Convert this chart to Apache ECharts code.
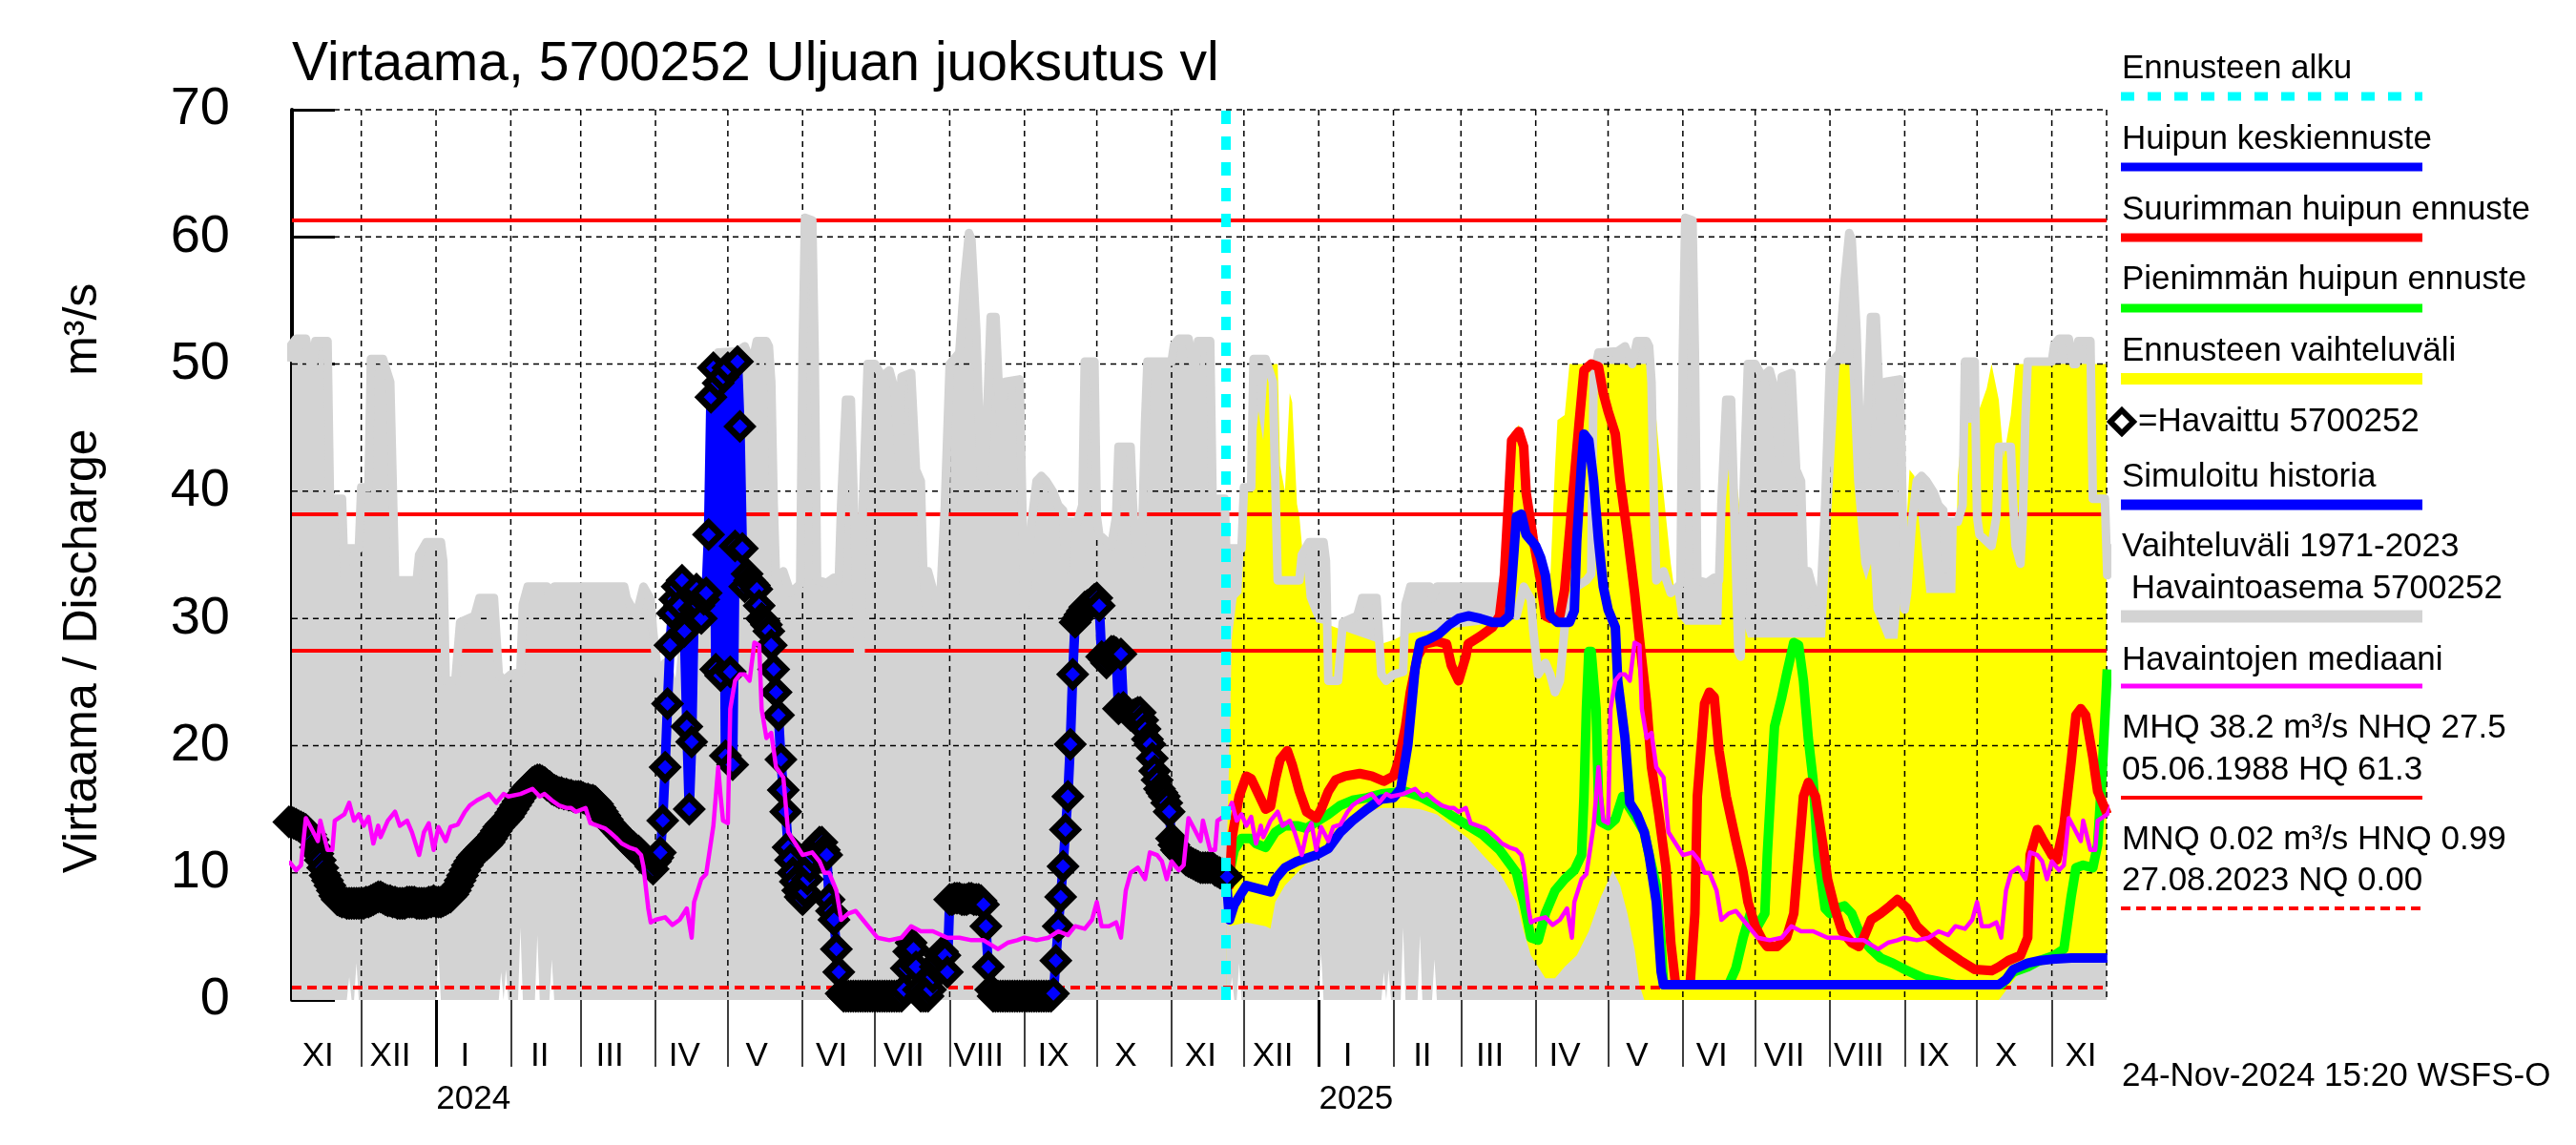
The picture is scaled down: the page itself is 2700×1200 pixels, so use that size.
<!DOCTYPE html>
<html><head><meta charset="utf-8">
<script src="https://cdn.jsdelivr.net/npm/echarts@6/dist/echarts.min.js"></script>
<style>html,body{margin:0;padding:0;background:#fff}#c{width:2700px;height:1200px}</style>
</head><body><div id="c"></div>
<script>
const FONT = '"Liberation Sans", Arial, Helvetica, sans-serif';
const axisStart = '2023-11-02T06:00';
const axisEnd = '2025-11-23T17:00';
const forecastStart = '2024-11-23T15:00';
const yTicks = [0, 10, 20, 30, 40, 50, 60, 70];
const romanMonths = ['I','II','III','IV','V','VI','VII','VIII','IX','X','XI','XII'];
const hqLevels = [61.3, 38.2, 27.5];   // HQ, MHQ, NHQ
const hnqLevel = 0.99;                 // HNQ

// Climatology 1971-2023 (one Nov..Oct cycle, repeats every year)
const climMaxCycle = [
['2023-11-01',50.2],['2023-11-02',51.5],['2023-11-04',52.0],['2023-11-08',52.0],['2023-11-10',50.0],['2023-11-11',50.0],['2023-11-12',51.8],['2023-11-17',51.8],['2023-11-18',39.4],['2023-11-23',39.4],['2023-11-24',33.4],['2023-11-25',35.5],['2023-11-30',35.5],
['2023-12-01',40.3],['2023-12-04',40.3],['2023-12-05',50.4],['2023-12-10',50.4],['2023-12-13',48.6],['2023-12-15',33.0],['2023-12-24',33.0],['2023-12-25',35.0],['2023-12-28',36.0],
['2024-01-03',36.0],['2024-01-04',34.5],['2024-01-05',25.1],['2024-01-09',25.1],['2024-01-11',29.7],['2024-01-17',30.2],['2024-01-19',31.6],['2024-01-25',31.6],['2024-01-27',25.6],['2024-01-29',25.1],
['2024-02-01',25.6],['2024-02-05',25.8],['2024-02-06',31.1],['2024-02-08',32.5],['2024-02-16',32.5],['2024-02-17',31.6],['2024-02-19',32.5],
['2024-03-19',32.5],['2024-03-20',31.6],['2024-03-24',30.2],['2024-03-27',32.5],['2024-03-30',31.5],['2024-03-31',29.0],
['2024-04-02',25.6],['2024-04-05',26.5],['2024-04-07',25.6],['2024-04-09',24.2],['2024-04-11',25.1],['2024-04-13',29.3],['2024-04-15',31.0],['2024-04-18',32.5],['2024-04-22',33.0],['2024-04-24',33.5],['2024-04-25',49.0],['2024-04-27',50.9],
['2024-05-05',51.0],['2024-05-08',51.4],['2024-05-11',50.0],['2024-05-13',51.8],['2024-05-17',51.8],['2024-05-18',51.4],['2024-05-19',48.6],['2024-05-20',39.0],['2024-05-21',33.0],['2024-05-24',33.7],['2024-05-27',32.0],['2024-05-31',32.7],
['2024-06-01',50.9],['2024-06-02',61.5],['2024-06-05',61.3],['2024-06-06',50.9],['2024-06-07',33.0],['2024-06-11',32.8],['2024-06-14',33.2],['2024-06-16',33.0],['2024-06-17',39.0],['2024-06-19',47.2],['2024-06-21',47.2],['2024-06-23',34.0],['2024-06-24',27.4],['2024-06-25',27.0],['2024-06-26',39.0],['2024-06-28',50.0],
['2024-07-01',50.0],['2024-07-04',49.0],['2024-07-07',49.5],['2024-07-09',48.1],['2024-07-11',42.6],['2024-07-12',49.0],['2024-07-16',49.3],['2024-07-18',41.7],['2024-07-20',40.8],['2024-07-21',33.9],['2024-07-22',31.1],['2024-07-23',33.7],['2024-07-26',31.6],['2024-07-28',31.1],['2024-07-30',38.9],
['2024-08-01',50.0],['2024-08-05',50.9],['2024-08-07',56.4],['2024-08-09',60.3],['2024-08-10',59.8],['2024-08-12',52.7],['2024-08-14',41.2],['2024-08-15',41.0],['2024-08-16',43.5],['2024-08-18',53.7],['2024-08-20',53.7],['2024-08-22',45.4],['2024-08-24',48.6],['2024-08-30',48.8],
['2024-09-01',30.7],['2024-09-02',32.0],['2024-09-04',37.6],['2024-09-06',40.8],['2024-09-08',41.2],['2024-09-10',40.8],['2024-09-13',39.9],['2024-09-15',38.9],['2024-09-17',38.5],['2024-09-18',33.9],['2024-09-19',37.6],['2024-09-23',37.6],['2024-09-25',38.9],['2024-09-26',50.2],['2024-09-30',50.2],
['2024-10-01',38.0],['2024-10-02',36.6],['2024-10-07',35.7],['2024-10-09',38.0],['2024-10-10',43.5],['2024-10-15',43.5],['2024-10-16',38.9],['2024-10-17',35.7],['2024-10-19',34.3],['2024-10-20',38.0],['2024-10-21',45.4],['2024-10-22',50.2],['2024-10-31',50.2]
];
const climMinCycle = [
['2023-11-01',0],['2023-11-25',0],['2023-11-26',1.8],['2023-11-27',0],['2023-11-28',0],['2023-11-29',2.9],['2023-11-30',0],
['2024-01-01',0],['2024-01-02',3.7],['2024-01-03',0],['2024-01-27',0],['2024-01-28',2.2],['2024-01-29',0],['2024-01-30',2.4],['2024-01-31',0],
['2024-02-04',0],['2024-02-05',5.7],['2024-02-06',0],['2024-02-11',0],['2024-02-12',5.1],['2024-02-13',0],['2024-02-17',0],['2024-02-18',3.2],['2024-02-19',0],['2024-10-31',0]
];
const medianCycle = [
['2023-11-01',10.9],['2023-11-04',10.2],['2023-11-06',10.6],['2023-11-08',14.3],['2023-11-10',13.6],['2023-11-13',12.5],['2023-11-14',14.1],['2023-11-17',11.8],['2023-11-19',11.8],['2023-11-20',14.1],['2023-11-24',14.6],['2023-11-26',15.5],['2023-11-28',14.1],['2023-11-30',14.6],
['2023-12-02',13.7],['2023-12-04',14.4],['2023-12-06',12.3],['2023-12-08',13.7],['2023-12-09',12.8],['2023-12-12',14.1],['2023-12-15',14.8],['2023-12-17',13.7],['2023-12-20',14.1],['2023-12-22',13.2],['2023-12-25',11.4],['2023-12-27',13.2],['2023-12-29',13.9],['2023-12-31',11.8],
['2024-01-02',13.6],['2024-01-05',12.5],['2024-01-07',13.6],['2024-01-10',13.8],['2024-01-13',14.8],['2024-01-15',15.3],['2024-01-18',15.7],['2024-01-21',16.0],['2024-01-23',16.2],['2024-01-26',15.5],['2024-01-29',16.2],['2024-01-31',16.0],
['2024-02-05',16.2],['2024-02-10',16.6],['2024-02-13',16.0],['2024-02-15',16.2],['2024-02-18',15.7],['2024-02-21',15.3],['2024-02-24',15.1],['2024-02-26',15.1],['2024-02-28',14.8],
['2024-03-03',15.1],['2024-03-05',13.9],['2024-03-08',13.7],['2024-03-11',13.5],['2024-03-13',13.2],['2024-03-16',12.7],['2024-03-18',12.3],['2024-03-21',12.0],['2024-03-24',11.8],['2024-03-26',11.4],['2024-03-27',10.5],['2024-03-29',7.2],['2024-03-30',6.1],
['2024-04-01',6.3],['2024-04-05',6.5],['2024-04-08',5.9],['2024-04-11',6.3],['2024-04-14',7.2],['2024-04-16',4.9],['2024-04-17',7.7],['2024-04-20',9.5],['2024-04-22',9.9],['2024-04-25',13.7],['2024-04-27',18.3],['2024-04-28',16.0],['2024-04-29',14.1],
['2024-05-01',13.9],['2024-05-02',22.9],['2024-05-04',25.1],['2024-05-06',25.6],['2024-05-08',25.6],['2024-05-10',25.1],['2024-05-12',28.1],['2024-05-14',27.9],['2024-05-15',22.9],['2024-05-17',20.6],['2024-05-19',21.0],['2024-05-21',18.3],['2024-05-24',17.5],['2024-05-26',13.2],['2024-05-29',12.3],
['2024-06-01',11.4],['2024-06-05',11.6],['2024-06-08',10.9],['2024-06-10',10.0],['2024-06-12',10.0],['2024-06-15',8.6],['2024-06-17',6.3],['2024-06-20',6.8],['2024-06-23',7.0],['2024-06-26',6.3],
['2024-07-02',4.9],['2024-07-07',4.7],['2024-07-12',4.9],['2024-07-16',5.8],['2024-07-20',5.4],['2024-07-25',5.4],['2024-07-31',4.9],
['2024-08-05',4.9],['2024-08-10',4.7],['2024-08-15',4.7],['2024-08-21',4.0],['2024-08-25',4.5],['2024-08-29',4.7],
['2024-09-01',4.9],['2024-09-06',4.7],['2024-09-11',4.9],['2024-09-15',5.4],['2024-09-19',5.1],['2024-09-22',5.8],['2024-09-26',5.6],['2024-09-29',6.3],
['2024-10-01',7.7],['2024-10-03',5.8],['2024-10-06',5.8],['2024-10-09',6.1],['2024-10-11',4.9],['2024-10-13',8.6],['2024-10-15',10.0],['2024-10-18',10.4],['2024-10-21',9.5],['2024-10-23',11.6],['2024-10-26',11.4],['2024-10-28',10.9],['2024-10-30',9.5]
];

// Observed daily discharge (Havaittu 5700252)
const obsNov2023 = [14.0,14.0,13.9,13.8,13.7,13.6,13.5,13.4,13.2,13.0,12.6,12.0,11.5,11.0,10.4,9.8,9.4,9.0,8.6,8.2,7.9,7.8,7.7,7.7,7.6,7.6,7.6,7.6,7.6,7.6];
const obsDec2023 = [7.6,7.6,7.7,7.7,7.8,7.9,8.0,8.1,8.1,8.0,7.9,7.8,7.8,7.7,7.7,7.6,7.6,7.6,7.6,7.7,7.7,7.7,7.7,7.6,7.6,7.6,7.6,7.6,7.7,7.7,7.8];
const obsJan2024 = [7.7,7.7,7.7,7.8,7.9,8.0,8.1,8.3,8.6,9.0,9.4,9.8,10.2,10.6,10.9,11.2,11.4,11.6,11.8,12.0,12.1,12.2,12.4,12.7,13.0,13.3,13.6,13.8,14.0,14.2,14.4];
const obsFeb2024 = [14.7,15.0,15.3,15.6,15.9,16.2,16.5,16.7,16.9,17.1,17.2,17.3,17.3,17.2,17.1,16.9,16.8,16.6,16.5,16.4,16.3,16.3,16.2,16.2,16.1,16.1,16.0,16.0,16.0];
const obsMar2024 = [16.0,15.9,15.8,15.8,15.7,15.7,15.6,15.4,15.1,14.8,14.5,14.2,13.9,13.7,13.5,13.3,13.1,12.9,12.7,12.5,12.3,12.1,12.0,11.8,11.7,11.5,11.3,11.0,10.8,10.5,10.3];
const obsApr2024 = [10.9,11.2,11.6,14.1,18.3,23.3,27.9,30.4,31.5,32.5,31.0,33.0,29.0,21.5,15.0,20.3,30.7,32.3,31.0,30.0,31.5,32.0,36.6,47.4,49.7,26.0,48.5,25.5,49.0,19.2];
const obsMay2024 = [49.7,25.8,18.5,35.7,50.2,45.1,35.5,32.5,33.5,33.0,32.8,32.6,32.3,31.0,30.0,29.8,29.5,29.0,27.9,26.0,24.2,22.4,18.9,16.5,14.8,12.0,11.0,10.0,9.3,8.6,8.1];
const obsJun2024 = [7.9,8.5,9.5,10.5,11.3,12.0,12.0,12.4,12.4,11.8,11.4,7.9,7.0,6.3,4.0,2.2,0.5,0.3,0.3,0.3,0.3,0.3,0.3,0.3,0.3,0.3,0.3,0.3,0.3,0.3];
const obsJul2024 = [0.3,0.3,0.3,0.3,0.3,0.3,0.3,0.3,0.3,0.3,0.3,0.3,0.8,2.5,3.8,4.5,4.0,2.6,0.8,0.3,0.3,0.3,0.3,0.8,1.8,2.6,3.0,3.5,3.8,3.5,2.2];
const obsAug2024 = [7.9,7.9,8.0,8.0,8.0,7.9,7.9,7.9,8.0,8.0,7.9,7.9,7.9,7.8,7.5,5.8,2.6,0.8,0.3,0.3,0.3,0.3,0.3,0.3,0.3,0.3,0.3,0.3,0.3,0.3,0.3];
const obsSep2024 = [0.3,0.3,0.3,0.3,0.3,0.3,0.3,0.3,0.3,0.3,0.3,0.3,0.5,3.1,5.8,8.1,10.5,13.4,16.0,20.1,25.6,29.7,30.0,30.3,30.6,30.9,31.0,31.1,31.3,31.5];
const obsOct2024 = [31.6,31.0,27.0,26.8,26.5,27.0,27.4,27.4,27.3,22.9,27.2,23.0,22.8,22.6,22.4,22.4,22.5,22.6,22.6,22.0,21.3,20.5,20.1,19.0,18.0,17.3,16.6,16.3,16.0,15.5,14.8];
const obsNov2024 = [12.7,12.2,11.8,11.6,11.4,11.2,11.0,10.9,10.8,10.7,10.6,10.5,10.4,10.4,10.4,10.4,10.4,10.4,10.2,10.1,10.0,9.9,9.8,9.7];

// Forecast
const fcUpper = [
['2024-11-23T15:00',9.7],['2024-11-25',20.0],['2024-11-26',28.5],['2024-11-28',31.6],['2024-11-30',32.0],['2024-12-02',40.0],['2024-12-04',40.5],['2024-12-07',46.3],['2024-12-09',44.0],['2024-12-11',50.0],['2024-12-15',50.0],['2024-12-16',42.0],['2024-12-18',40.0],['2024-12-20',47.7],['2024-12-21',47.0],['2024-12-23',39.0],['2024-12-24',38.0],['2024-12-27',31.6],['2024-12-31',29.7],
['2025-01-05',29.5],['2025-01-15',28.8],['2025-01-27',28.0],['2025-02-01',28.3],['2025-02-06',28.8],['2025-02-14',29.0],['2025-03-09',29.5],['2025-03-14',29.8],['2025-03-17',30.6],['2025-03-19',34.0],['2025-03-21',41.0],['2025-03-22',44.6],['2025-03-25',45.2],['2025-03-27',44.0],['2025-03-28',40.5],['2025-03-31',36.8],
['2025-04-03',33.6],['2025-04-05',31.0],['2025-04-07',33.0],['2025-04-09',42.0],['2025-04-10',45.6],['2025-04-13',46.0],['2025-04-15',50.0],['2025-05-19',50.0],['2025-05-22',43.5],['2025-05-25',38.0],['2025-05-27',34.3],['2025-05-30',30.2],['2025-06-02',29.5],['2025-06-17',29.5],['2025-06-18',38.0],['2025-06-20',41.7],['2025-06-23',41.2],['2025-06-25',38.0],['2025-06-26',29.7],['2025-06-28',28.5],
['2025-07-30',28.5],['2025-08-02',40.0],['2025-08-05',50.0],['2025-08-09',50.0],['2025-08-11',40.8],['2025-08-14',34.3],['2025-08-16',33.0],['2025-08-18',34.3],['2025-08-19',30.7],['2025-08-24',28.4],['2025-08-29',28.4],['2025-09-01',35.0],['2025-09-03',41.7],['2025-09-05',41.2],['2025-09-10',32.0],['2025-09-22',32.0],['2025-09-23',41.2],['2025-09-25',45.4],['2025-09-30',45.4],
['2025-10-05',48.1],['2025-10-07',50.0],['2025-10-10',47.2],['2025-10-12',42.6],['2025-10-15',46.0],['2025-10-17',50.0],['2025-11-24',50.0]
];
const fcLower = [
['2024-11-23T15:00',9.7],['2024-11-25',5.8],['2024-12-02',6.1],['2024-12-10',5.8],['2024-12-12',5.6],['2024-12-14',7.7],['2024-12-18',9.0],['2024-12-23',10.0],['2024-12-31',11.4],['2025-01-05',12.3],['2025-01-10',13.2],['2025-01-15',14.1],['2025-01-21',14.8],['2025-01-27',15.1],
['2025-02-06',15.1],['2025-02-12',15.0],['2025-02-19',14.6],['2025-02-25',13.7],['2025-03-04',12.7],['2025-03-10',11.4],['2025-03-17',10.0],['2025-03-24',7.7],['2025-03-27',5.4],['2025-03-30',3.5],['2025-04-02',2.6],['2025-04-05',1.7],['2025-04-09',1.7],['2025-04-13',2.6],['2025-04-18',3.5],['2025-04-23',5.4],['2025-04-28',8.1],['2025-05-03',10.2],['2025-05-06',9.0],['2025-05-09',6.8],['2025-05-12',4.0],['2025-05-14',1.2],['2025-05-16',0],
['2025-10-10',0],['2025-10-14',1.0],['2025-10-18',2.0],['2025-10-25',2.6],['2025-11-01',2.9],['2025-11-24',3.0]
];
const fcMean = [
['2024-11-23T15:00',9.7],['2024-11-25',6.3],['2024-11-27',7.5],['2024-11-29',8.1],['2024-12-02',9.0],['2024-12-10',8.6],['2024-12-12',8.5],['2024-12-14',9.5],['2024-12-18',10.4],['2024-12-23',10.9],['2024-12-31',11.4],['2025-01-05',11.9],['2025-01-10',13.2],['2025-01-15',14.1],['2025-01-21',15.0],['2025-01-27',15.8],
['2025-02-01',15.9],['2025-02-04',16.6],['2025-02-07',20.1],['2025-02-10',26.1],['2025-02-12',28.1],['2025-02-15',28.3],['2025-02-20',28.8],['2025-02-24',29.5],['2025-02-28',30.0],['2025-03-04',30.2],['2025-03-09',30.0],['2025-03-14',29.7],['2025-03-18',29.7],['2025-03-21',30.2],['2025-03-23',35.3],['2025-03-24',38.0],['2025-03-26',38.2],['2025-03-28',36.6],['2025-04-01',35.7],['2025-04-03',34.8],['2025-04-05',33.4],['2025-04-07',30.2],['2025-04-10',29.7],['2025-04-15',29.7],['2025-04-17',30.6],['2025-04-18',36.1],['2025-04-20',42.2],['2025-04-21',44.5],['2025-04-23',44.0],['2025-04-25',40.8],['2025-04-27',36.2],['2025-04-29',32.5],['2025-05-01',30.7],['2025-05-04',29.3],['2025-05-05',25.1],['2025-05-08',20.6],['2025-05-10',15.5],['2025-05-13',14.6],['2025-05-16',13.2],['2025-05-18',11.4],['2025-05-21',7.7],['2025-05-23',2.2],['2025-05-24',1.2],
['2025-10-10',1.2],['2025-10-13',1.6],['2025-10-16',2.4],['2025-10-22',2.9],['2025-10-27',3.1],['2025-11-01',3.2],['2025-11-09',3.3],['2025-11-24',3.3]
];
const fcMax = [
['2024-11-23T15:00',9.7],['2024-11-25',9.0],['2024-11-26',12.7],['2024-11-29',16.0],['2024-12-02',17.6],['2024-12-04',17.4],['2024-12-07',16.2],['2024-12-10',15.0],['2024-12-12',15.2],['2024-12-14',17.3],['2024-12-16',18.9],['2024-12-19',19.6],['2024-12-21',18.5],['2024-12-24',16.4],['2024-12-27',14.8],['2024-12-31',14.3],
['2025-01-02',15.0],['2025-01-05',16.4],['2025-01-08',17.3],['2025-01-12',17.6],['2025-01-18',17.8],['2025-01-23',17.6],['2025-01-28',17.2],['2025-02-01',17.6],['2025-02-03',18.7],['2025-02-06',21.5],['2025-02-08',24.2],['2025-02-11',27.0],['2025-02-14',28.0],['2025-02-19',28.2],['2025-02-23',28.0],['2025-02-25',26.3],['2025-02-28',25.1],['2025-03-03',27.0],['2025-03-04',28.0],['2025-03-09',28.6],['2025-03-14',29.3],['2025-03-17',30.2],['2025-03-19',33.4],['2025-03-21',40.3],['2025-03-22',44.0],['2025-03-25',44.7],['2025-03-27',43.5],['2025-03-28',39.9],['2025-03-31',36.2],
['2025-04-03',33.0],['2025-04-05',30.2],['2025-04-07',30.0],['2025-04-11',30.2],['2025-04-13',32.3],['2025-04-16',38.9],['2025-04-19',45.4],['2025-04-21',49.5],['2025-04-24',50.0],['2025-04-27',49.8],['2025-04-29',47.7],['2025-05-01',46.3],['2025-05-04',44.5],['2025-05-06',40.8],['2025-05-09',36.6],['2025-05-12',32.0],['2025-05-14',28.4],['2025-05-17',23.3],['2025-05-19',18.3],['2025-05-22',14.6],['2025-05-25',10.4],['2025-05-27',4.5],['2025-05-29',1.2],
['2025-06-04',1.2],['2025-06-06',6.8],['2025-06-07',16.0],['2025-06-10',23.3],['2025-06-12',24.2],['2025-06-14',23.8],['2025-06-16',19.6],['2025-06-19',16.0],['2025-06-23',12.5],['2025-06-26',10.0],['2025-06-28',7.7],['2025-07-01',5.8],['2025-07-04',4.7],['2025-07-06',4.2],['2025-07-10',4.2],['2025-07-14',4.9],['2025-07-17',6.8],['2025-07-19',11.4],['2025-07-21',16.0],['2025-07-23',17.1],['2025-07-26',16.0],['2025-07-29',12.3],['2025-07-31',9.5],
['2025-08-03',7.2],['2025-08-06',5.4],['2025-08-10',4.5],['2025-08-13',4.2],['2025-08-15',4.9],['2025-08-18',6.3],['2025-08-22',6.8],['2025-08-26',7.4],['2025-08-29',7.9],['2025-09-02',7.2],['2025-09-06',5.8],['2025-09-11',4.9],['2025-09-17',4.0],['2025-09-24',3.1],['2025-09-30',2.4],
['2025-10-07',2.3],['2025-10-10',2.6],['2025-10-14',3.1],['2025-10-19',3.5],['2025-10-22',4.9],['2025-10-23',11.4],['2025-10-26',13.4],['2025-10-28',12.7],['2025-11-01',11.4],['2025-11-03',11.0],['2025-11-06',13.7],['2025-11-09',18.7],['2025-11-11',22.4],['2025-11-13',22.9],['2025-11-15',22.4],['2025-11-18',19.1],['2025-11-20',16.4],['2025-11-24',14.6]
];
const fcMin = [
['2024-11-23T15:00',9.7],['2024-11-25',10.0],['2024-11-27',11.8],['2024-11-30',12.7],['2024-12-04',12.7],['2024-12-06',12.3],['2024-12-10',12.0],['2024-12-14',13.2],['2024-12-18',13.7],['2024-12-23',13.7],['2024-12-27',13.5],['2024-12-31',14.0],['2025-01-05',14.6],['2025-01-10',15.3],['2025-01-15',15.7],['2025-01-21',15.9],['2025-01-27',16.2],
['2025-02-06',16.4],['2025-02-12',16.0],['2025-02-19',15.3],['2025-02-25',14.5],['2025-03-04',13.7],['2025-03-10',13.0],['2025-03-17',11.8],['2025-03-24',10.0],['2025-03-27',7.7],['2025-03-30',4.9],['2025-04-02',4.7],['2025-04-05',6.8],['2025-04-09',8.6],['2025-04-13',9.5],['2025-04-17',10.2],['2025-04-20',11.4],['2025-04-21',16.0],['2025-04-22',22.9],['2025-04-23',27.4],['2025-04-24',27.4],['2025-04-26',22.9],['2025-04-27',16.0],['2025-04-28',14.0],
['2025-05-01',13.7],['2025-05-04',14.2],['2025-05-07',16.0],['2025-05-10',15.1],['2025-05-13',14.2],['2025-05-16',13.2],['2025-05-18',11.4],['2025-05-21',9.0],['2025-05-23',4.5],['2025-05-24',1.2],['2025-06-20',1.2],['2025-06-23',2.5],['2025-06-26',4.9],['2025-06-29',6.8],
['2025-07-02',5.8],['2025-07-05',6.8],['2025-07-06',11.4],['2025-07-08',18.3],['2025-07-09',21.5],['2025-07-12',23.8],['2025-07-14',25.6],['2025-07-17',28.1],['2025-07-19',27.9],['2025-07-21',25.1],['2025-07-23',20.6],['2025-07-25',17.3],['2025-07-27',11.4],['2025-07-30',7.2],
['2025-08-01',6.8],['2025-08-04',7.2],['2025-08-07',7.4],['2025-08-10',6.8],['2025-08-14',4.9],['2025-08-18',4.0],['2025-08-22',3.3],['2025-08-27',2.9],['2025-09-01',2.4],['2025-09-09',1.7],['2025-09-14',1.5],['2025-09-22',1.2],
['2025-10-11',1.2],['2025-10-16',2.2],['2025-10-22',2.6],['2025-10-27',3.1],['2025-11-02',3.5],['2025-11-06',4.0],['2025-11-09',8.1],['2025-11-11',10.4],['2025-11-14',10.6],['2025-11-18',10.4],['2025-11-20',12.2],['2025-11-22',18.3],['2025-11-24',26.0]
];

// Legend / texts
const titleText = 'Virtaama, 5700252 Uljuan juoksutus vl';
const yAxisName = 'Virtaama / Discharge    m³/s';
const legendTexts = [
  ['Ennusteen alku', 72], ['Huipun keskiennuste', 146], ['Suurimman huipun ennuste', 220],
  ['Pienimmän huipun ennuste', 293], ['Ennusteen vaihteluväli', 368], ['Simuloitu historia', 500],
  ['Vaihteluväli 1971-2023', 573], [' Havaintoasema 5700252', 617], ['Havaintojen mediaani', 692],
  ['MHQ 38.2 m³/s NHQ 27.5', 763], ['05.06.1988 HQ 61.3', 807],
  ['MNQ 0.02 m³/s HNQ 0.99', 880], ['27.08.2023 NQ 0.00', 923]
];
const observedLabel = '=Havaittu 5700252';
const stampText = '24-Nov-2024 15:20 WSFS-O';

// ---------- helpers ----------
function ts(s) {
  const p = s.split('T');
  const d = p[0].split('-').map(Number);
  let h = 0, mi = 0;
  if (p[1]) { const t = p[1].split(':').map(Number); h = t[0]; mi = t[1] || 0; }
  return Date.UTC(d[0], d[1] - 1, d[2], h, mi);
}
const toSeries = arr => arr.map(([d, v]) => [ts(d), v]);
function repeatYearly(arr, offsets) {
  const out = [];
  offsets.forEach(off => arr.forEach(([d, v]) => {
    const q = d.split('-').map(Number);
    out.push([Date.UTC(q[0] + off, q[1] - 1, q[2]), v]);
  }));
  return out;
}
const observedMonths = [[2023,11,obsNov2023],[2023,12,obsDec2023],[2024,1,obsJan2024],[2024,2,obsFeb2024],[2024,3,obsMar2024],[2024,4,obsApr2024],[2024,5,obsMay2024],[2024,6,obsJun2024],[2024,7,obsJul2024],[2024,8,obsAug2024],[2024,9,obsSep2024],[2024,10,obsOct2024],[2024,11,obsNov2024]];
function dailySeries(months) {
  const out = [];
  months.forEach(([y, m, vals]) => vals.forEach((v, i) => out.push([Date.UTC(y, m - 1, i + 1), v])));
  return out;
}

const X0 = ts(axisStart), X1 = ts(axisEnd);
const monthStarts = [], monthMids = [];
for (let k = -1; k < 24; k++) {
  const idx = 11 + k;
  const y = 2023 + Math.floor(idx / 12), m = idx % 12;
  if (k >= 0) monthStarts.push(Date.UTC(y, m, 1));
  monthMids.push(Date.UTC(y, m, 13));
}
const yearStarts = [Date.UTC(2024, 0, 1), Date.UTC(2025, 0, 1)];
const yearMids = [Date.UTC(2024, 0, 16, 12), Date.UTC(2025, 0, 16, 12)];

const years = [0, 1, 2];
const climMax = repeatYearly(climMaxCycle, years);
const climMin = repeatYearly(climMinCycle, years);
const median = repeatYearly(medianCycle, years);
const observed = dailySeries(observedMonths);

const lineBase = { type: 'line', symbol: 'none', showSymbol: false, silent: true, smooth: false, animation: false };
const fill = (name, data, color, z) => Object.assign({}, lineBase, {
  name, data, z, lineStyle: { width: 0, opacity: 0 }, areaStyle: { color, opacity: 1 }
});
const stroke = (name, data, color, width, z) => Object.assign({}, lineBase, {
  name, data, z, lineStyle: { color, width, cap: 'butt', join: 'round' }
});

// grid lines: [0, x] vertical at x; [1, y] horizontal at y
const gridLineData = monthStarts.map(t => [0, t]).concat([[0, X1]])
  .concat(yTicks.filter(v => v > 0).map(v => [1, v]));
const gridSeries = {
  type: 'custom', name: 'grid', silent: true, animation: false, z: 5, clip: false,
  data: gridLineData,
  renderItem: (params, api) => {
    const kind = api.value(0), v = api.value(1);
    const cs = params.coordSys;
    let shape;
    if (kind === 0) {
      const x = api.coord([v, 0])[0];
      shape = { x1: x, y1: cs.y, x2: x, y2: cs.y + cs.height };
    } else {
      const y = api.coord([X0, v])[1];
      shape = { x1: cs.x, y1: y, x2: cs.x + cs.width, y2: y };
    }
    return { type: 'line', shape, style: { stroke: '#000000', lineWidth: 1.5, lineDash: [6, 5], fill: null } };
  }
};

const series = [
  fill('Vaihteluväli', climMax, '#d3d3d3', 1),
  fill('Ennusteen vaihteluväli', toSeries(fcUpper), '#ffff00', 2),
  fill('Ennusteen alaraja', toSeries(fcLower), '#d3d3d3', 3),
  fill('Vaihteluväli min', climMin, '#ffffff', 4),
  gridSeries,
  Object.assign({}, lineBase, { name: 'ref', data: [], z: 6,
    markLine: { silent: true, symbol: ['none', 'none'], animation: false, z: 6, label: { show: false },
      lineStyle: { color: '#ff0000', width: 4, type: 'solid' },
      data: hqLevels.map(v => ({ yAxis: v })).concat([{ yAxis: hnqLevel, lineStyle: { color: '#ff0000', width: 4, type: [10, 6] } }]) } }),
  stroke('Vaihteluväli yläraja', climMax, '#d3d3d3', 9, 7),
  stroke('Pienimmän huipun ennuste', toSeries(fcMin), '#00ff00', 10, 8),
  stroke('Suurimman huipun ennuste', toSeries(fcMax), '#ff0000', 10, 9),
  stroke('Huipun keskiennuste', toSeries(fcMean), '#0000ff', 10, 10),
  stroke('Simuloitu historia', observed, '#0000ff', 10, 11),
  { type: 'scatter', name: 'Havaittu', data: observed, symbol: 'diamond', symbolSize: 25, z: 12, clip: false, silent: true, animation: false,
    itemStyle: { color: '#0000ff', borderColor: '#000000', borderWidth: 7, opacity: 1 } },
  stroke('Havaintojen mediaani', median, '#ff00ff', 4.5, 13),
  Object.assign({}, lineBase, { name: 'start', data: [], z: 14,
    markLine: { silent: true, symbol: ['none', 'none'], animation: false, z: 14, label: { show: false },
      lineStyle: { color: '#00ffff', width: 10, type: [14, 13] }, data: [{ xAxis: ts(forecastStart) }] } })
];

// ---------- graphic (title, axis name, legend) ----------
const LX0 = 2223, LX1 = 2539;
const graphic = [];
const txt = (text, x, y, size) => ({ type: 'text', x, y, z: 100, silent: true,
  style: { text, fill: '#000', fontSize: size, fontFamily: FONT, align: 'left', verticalAlign: 'middle' } });
graphic.push(txt(titleText, 306, 68, 57));
graphic.push({ type: 'text', x: 87, y: 606, rotation: Math.PI / 2, z: 100, silent: true,
  style: { text: yAxisName, fill: '#000', fontSize: 50, fontFamily: FONT, align: 'center', verticalAlign: 'middle' } });
legendTexts.forEach(([t, y]) => graphic.push(txt(t, 2224, y, 35)));
graphic.push(txt(observedLabel, 2241, 442, 35));
graphic.push(txt(stampText, 2224, 1128, 35));
const legendLines = [
  [101, '#00ffff', 9, [14, 14]], [175, '#0000ff', 9, null], [249, '#ff0000', 9, null], [323, '#00ff00', 9, null],
  [397, '#ffff00', 12, null], [529, '#0000ff', 11, null], [646, '#d3d3d3', 13, null], [719, '#ff00ff', 5, null],
  [836, '#ff0000', 4, null], [952, '#ff0000', 4, [10, 6]]
];
legendLines.forEach(([y, c, w, dash]) => graphic.push({ type: 'line', z: 100, silent: true,
  shape: { x1: LX0, y1: y, x2: LX1, y2: y }, style: { stroke: c, lineWidth: w, lineDash: dash || null, lineCap: 'butt' } }));
graphic.push({ type: 'polygon', z: 100, silent: true,
  shape: { points: [[2224, 430], [2236, 442], [2224, 454], [2212, 442]] },
  style: { fill: '#ffffff', stroke: '#000000', lineWidth: 6, lineJoin: 'miter' } });

const chart = echarts.init(document.getElementById('c'), null, { renderer: 'canvas' });
chart.setOption({
  animation: false,
  backgroundColor: '#ffffff',
  grid: { left: 306, right: 492, top: 115, bottom: 152, containLabel: false },
  xAxis: [
    { type: 'value', min: X0, max: X1, position: 'bottom', scale: true, axisLine: { show: false },
      splitLine: { show: false }, splitArea: { show: false }, minorSplitLine: { show: false },
      axisTick: { show: true, customValues: monthStarts, length: 70, lineStyle: { color: '#000', width: 1.5 } },
      axisLabel: { show: true, customValues: monthMids, formatter: v => romanMonths[new Date(v).getUTCMonth()],
        fontSize: 35, fontFamily: FONT, color: '#000', margin: 42, align: 'center' } },
    { type: 'value', min: X0, max: X1, position: 'bottom', scale: true, axisLine: { show: false },
      splitLine: { show: false }, splitArea: { show: false }, minorSplitLine: { show: false },
      axisTick: { show: true, customValues: yearStarts, length: 70, lineStyle: { color: '#000', width: 3 } },
      axisLabel: { show: true, customValues: yearMids, formatter: v => String(new Date(v).getUTCFullYear()),
        fontSize: 35, fontFamily: FONT, color: '#000', margin: 87, align: 'center' } }
  ],
  yAxis: { type: 'value', min: 0, max: 70, interval: 10,
    axisLine: { show: true, lineStyle: { color: '#000', width: 4 } },
    axisTick: { show: true, inside: true, length: 45, lineStyle: { color: '#000', width: 3 } },
    splitLine: { show: false }, splitArea: { show: false },
    axisLabel: { fontSize: 56, fontFamily: FONT, color: '#000', margin: 65, padding: [0, 0, 16, 0] } },
  graphic: graphic,
  series: series
});
</script>
</body></html>
